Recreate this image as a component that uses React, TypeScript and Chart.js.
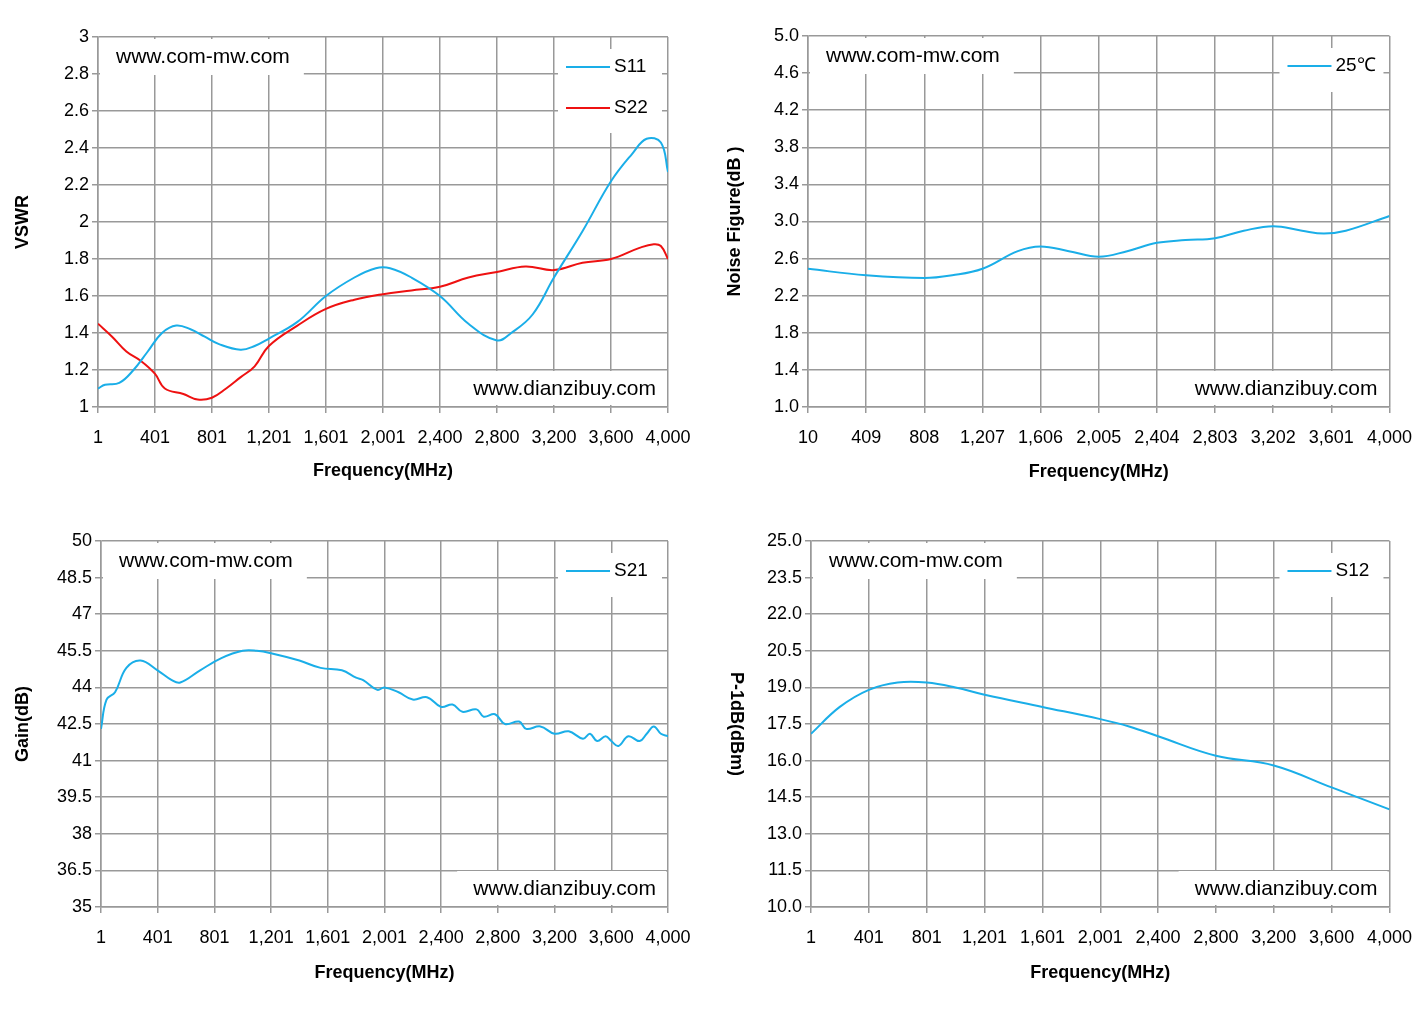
import React, { useEffect, useRef } from "react";
import { Chart, registerables } from "chart.js";
Chart.register(...registerables);

const FONT = "'Liberation Sans', Arial, sans-serif";

const s11X = [1, 50, 150, 250, 350, 450, 550, 650, 750, 850, 1000, 1100, 1200, 1400, 1600, 1800, 1950, 2050, 2200, 2400, 2600, 2800, 2900, 3050, 3200, 3400, 3600, 3750, 3850, 3950, 4000];
const s11Y = [1.1, 1.12, 1.13, 1.2, 1.3, 1.4, 1.44, 1.42, 1.38, 1.34, 1.31, 1.33, 1.37, 1.46, 1.6, 1.7, 1.75, 1.75, 1.7, 1.6, 1.45, 1.36, 1.4, 1.5, 1.7, 1.95, 2.22, 2.37, 2.45, 2.43, 2.27];
const s22X = [1, 100, 200, 300, 400, 470, 600, 700, 800, 900, 1000, 1100, 1200, 1400, 1600, 1800, 2000, 2200, 2400, 2600, 2800, 3000, 3200, 3400, 3600, 3800, 3900, 3950, 4000];
const s22Y = [1.45, 1.38, 1.3, 1.25, 1.18, 1.1, 1.07, 1.04, 1.05, 1.1, 1.16, 1.22, 1.33, 1.44, 1.53, 1.58, 1.61, 1.63, 1.65, 1.7, 1.73, 1.76, 1.74, 1.78, 1.8, 1.86, 1.88, 1.87, 1.8];
const nfX = [10, 409, 808, 1000, 1207, 1450, 1606, 1800, 2005, 2200, 2404, 2600, 2803, 3000, 3202, 3400, 3550, 3700, 4000];
const nfY = [2.49, 2.42, 2.39, 2.42, 2.49, 2.68, 2.73, 2.68, 2.62, 2.68, 2.77, 2.8, 2.82, 2.9, 2.95, 2.9, 2.87, 2.9, 3.06];
const gX = [1, 40, 100, 180, 280, 400, 500, 560, 700, 850, 1000, 1100, 1200, 1400, 1550, 1700, 1800, 1850, 1950, 2000, 2100, 2200, 2300, 2400, 2480, 2550, 2650, 2700, 2780, 2850, 2950, 3000, 3100, 3200, 3300, 3400, 3450, 3500, 3560, 3600, 3650, 3720, 3800, 3850, 3900, 3950, 4000];
const gY = [42.3, 43.5, 43.8, 44.8, 45.1, 44.7, 44.3, 44.2, 44.7, 45.2, 45.5, 45.5, 45.4, 45.1, 44.8, 44.7, 44.4, 44.3, 43.9, 44.0, 43.8, 43.5, 43.6, 43.2, 43.3, 43.0, 43.1, 42.8, 42.9, 42.5, 42.6, 42.3, 42.4, 42.1, 42.2, 41.9, 42.1, 41.8, 42.0, 41.8, 41.6, 42.0, 41.8, 42.1, 42.4, 42.1, 42.0];
const pX = [1, 200, 401, 600, 801, 1000, 1201, 1601, 2001, 2200, 2400, 2800, 3200, 3600, 4000];
const pY = [17.1, 18.2, 18.9, 19.2, 19.2, 19.0, 18.7, 18.2, 17.7, 17.4, 17.0, 16.2, 15.8, 14.9, 14.0];

const xTicksA = [1, 401, 801, 1201, 1601, 2001, 2400, 2800, 3200, 3600, 4000];
const xTicksNF = [10, 409, 808, 1207, 1606, 2005, 2404, 2803, 3202, 3601, 4000];

const BLUE = "#1aaee8";
const RED = "#ee1111";

const marks = {
  id: "marks",
  afterDatasetsDraw(chart: any) {
    const o = chart.options.plugins.marks;
    if (!o) return;
    const { ctx, chartArea: a } = chart;
    ctx.save();
    ctx.font = `21px ${FONT}`;
    ctx.textBaseline = "middle";
    const w1 = ctx.measureText(o.wm1).width;
    ctx.fillStyle = "#fff";
    ctx.fillRect(a.left + 2, a.top + 2, w1 + 30, 36);
    ctx.fillStyle = "#000";
    ctx.fillText(o.wm1, a.left + 18, a.top + 20);
    const w2 = ctx.measureText(o.wm2).width;
    ctx.fillStyle = "#fff";
    ctx.fillRect(a.right - w2 - 28, a.bottom - 36, w2 + 26, 34);
    ctx.fillStyle = "#000";
    ctx.fillText(o.wm2, a.right - w2 - 12, a.bottom - 18);
    ctx.font = `19px ${FONT}`;
    const lw = 104;
    ctx.fillStyle = "#fff";
    ctx.fillRect(a.right - lw - 6, a.top + 12, lw, 40 * o.legend.length + 4);
    o.legend.forEach((l: any, i: number) => {
      const y = a.top + 30 + 41 * i;
      ctx.strokeStyle = l.color;
      ctx.lineWidth = 2;
      ctx.beginPath();
      ctx.moveTo(a.right - lw + 2, y);
      ctx.lineTo(a.right - lw + 46, y);
      ctx.stroke();
      ctx.fillStyle = "#000";
      ctx.fillText(l.label, a.right - lw + 50, y);
    });
    if (o.cwTitle) {
      ctx.font = `bold 18px ${FONT}`;
      ctx.textAlign = "center";
      ctx.translate(o.cwX, (a.top + a.bottom) / 2);
      ctx.rotate(Math.PI / 2);
      ctx.fillText(o.cwTitle, 0, 0);
    }
    ctx.restore();
  },
};

function pts(xs: number[], ys: number[]) {
  return xs.map((x, i) => ({ x, y: ys[i] }));
}

function ChartBox(props: any) {
  const ref = useRef<HTMLCanvasElement>(null);
  const W = props.cw, H = props.ch;
  useEffect(() => {
    const p = props;
    const [pl, pt, pr, pb] = p.plot;
    const c = new Chart(ref.current!, {
      type: "line",
      data: {
        datasets: p.series.map((s: any) => ({
          data: pts(s.x, s.y),
          borderColor: s.color,
          borderWidth: 2,
          pointRadius: 0,
          tension: 0.4,
          fill: false,
        })),
      },
      options: {
        animation: false,
        responsive: false,
        layout: { padding: { right: p.left + W - pr, top: pt - p.top, left: 0, bottom: 0 } },
        plugins: {
          legend: { display: false },
          tooltip: { enabled: false },
          marks: {
            wm1: "www.com-mw.com", wm2: "www.dianzibuy.com",
            legend: p.series.map((s: any) => ({ label: s.label, color: s.color })),
            cwTitle: p.cw2 ? p.yTitle : null, cwX: 24,
          },
        } as any,
        scales: {
          x: {
            type: "linear",
            min: p.xTicks[0],
            max: 4000,
            afterBuildTicks: (ax: any) => {
              ax.ticks = p.xTicks.map((v: number) => ({ value: v }));
            },
            afterFit: (ax: any) => { ax.height = p.top + H - pb; },
            ticks: {
              autoSkip: false,
              maxRotation: 0,
              padding: 14,
              font: { family: FONT, size: 18 },
              color: "#000",
              callback: (v: any) => Number(v).toLocaleString("en-US"),
            },
            grid: { color: "#999", lineWidth: 1.5, drawTicks: true, tickLength: 6 },
            border: { color: "#999", width: 1.5 },
            title: { display: true, text: "Frequency(MHz)", font: { family: FONT, size: 18, weight: "bold" }, color: "#000", padding: { top: 8 } },
          },
          y: {
            min: p.yMin,
            max: p.yMax,
            afterBuildTicks: (ax: any) => {
              const t = [];
              for (let v = p.yMin; v <= p.yMax + 1e-9; v += p.yStep) t.push({ value: +v.toFixed(3) });
              ax.ticks = t;
            },
            afterFit: (ax: any) => { ax.width = pl - p.left; },
            ticks: {
              font: { family: FONT, size: 18 },
              color: "#000",
              callback: (v: any) => (p.yDec ? Number(v).toFixed(p.yDec) : String(+Number(v).toFixed(2))),
            },
            grid: { color: "#999", lineWidth: 1.5, tickLength: 6 },
            border: { color: "#999", width: 1.5 },
            title: { display: !p.cw2, text: p.yTitle, font: { family: FONT, size: 18, weight: "bold" }, color: "#000", padding: { top: 12, bottom: 8 } },
          },
        },
      },
      plugins: [marks],
    } as any);
    return () => c.destroy();
  }, []);
  return (
    <canvas
      ref={ref}
      width={W}
      height={H}
      style={{ position: "absolute", left: props.left, top: props.top, width: W, height: H }}
    />
  );
}

export default function App() {
  return (
    <div style={{ position: "absolute", left: 0, top: 0, width: 1426, height: 1015, background: "#fff" }}>
      <ChartBox left={0} top={22} cw={710} ch={464} plot={[98, 37, 668, 407]} xTicks={xTicksA} yMin={1} yMax={3} yStep={0.2} yDec={0} yTitle="VSWR"
        series={[{ label: "S11", color: BLUE, x: s11X, y: s11Y }, { label: "S22", color: RED, x: s22X, y: s22Y }]} />
      <ChartBox left={712} top={22} cw={714} ch={465} plot={[808, 36, 1390, 407]} xTicks={xTicksNF} yMin={1} yMax={5} yStep={0.4} yDec={1} yTitle="Noise Figure(dB )"
        series={[{ label: "25℃", color: BLUE, x: nfX, y: nfY }]} />
      <ChartBox left={0} top={527} cw={710} ch={461} plot={[101, 541, 668, 907]} xTicks={xTicksA} yMin={35} yMax={50} yStep={1.5} yDec={0} yTitle="Gain(dB)"
        series={[{ label: "S21", color: BLUE, x: gX, y: gY }]} />
      <ChartBox left={712} top={527} cw={714} ch={461} plot={[811, 541, 1390, 907]} xTicks={xTicksA} yMin={10} yMax={25} yStep={1.5} yDec={1} yTitle="P-1dB(dBm)" cw2={true}
        series={[{ label: "S12", color: BLUE, x: pX, y: pY }]} />
    </div>
  );
}
